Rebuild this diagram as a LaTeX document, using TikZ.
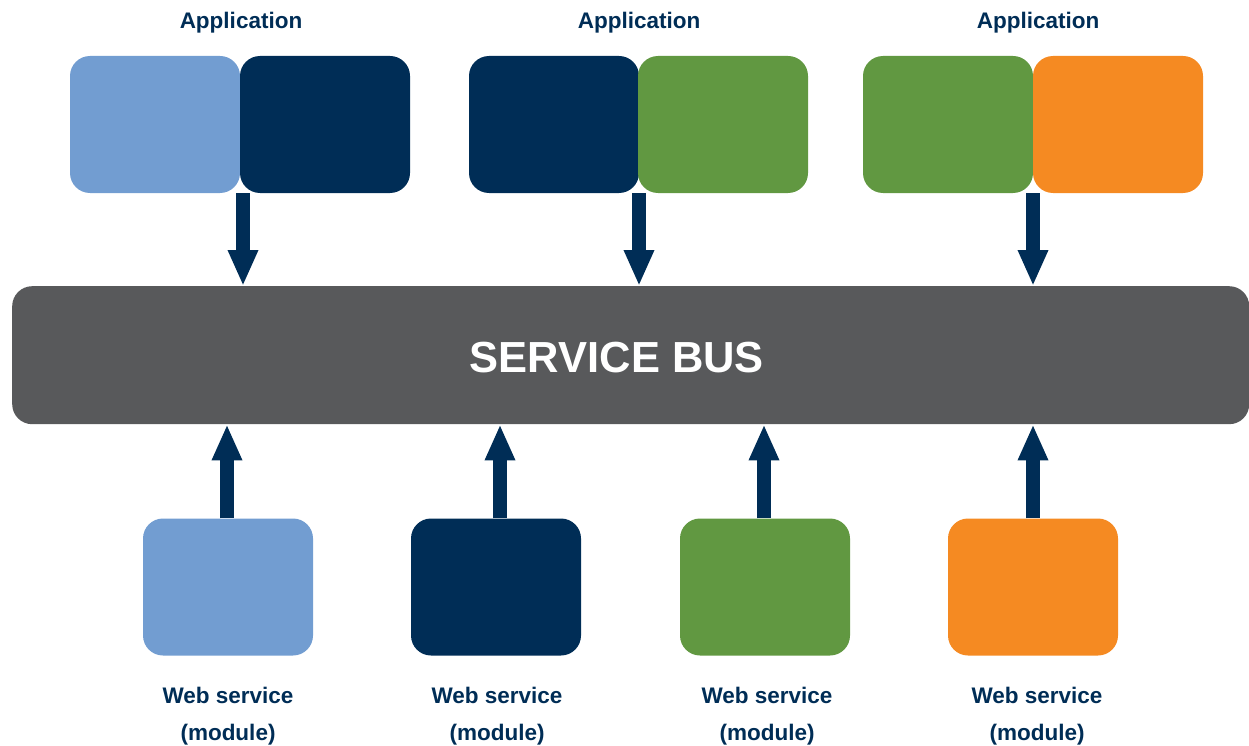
\documentclass[tikz,border=0pt]{standalone}
\usepackage{fontspec}
\setmainfont{Liberation Sans}
\usetikzlibrary{arrows.meta}
\definecolor{lblue}{HTML}{729DD1}
\definecolor{navy}{HTML}{002D56}
\definecolor{green}{HTML}{619841}
\definecolor{orange}{HTML}{F58A22}
\definecolor{busgray}{HTML}{58595B}
\tikzset{
  box/.style={rectangle, rounded corners=20pt, minimum width=170pt, minimum height=137pt, inner sep=0pt, draw=none},
  lbl/.style={text=navy, font=\fontsize{22.5}{37}\selectfont\bfseries, align=center, inner sep=0pt},
  bigarrow/.style={navy, line width=14pt, -{Triangle[width=28pt,length=36pt]}},
}
\begin{document}
\begin{tikzpicture}[x=1pt,y=-1pt]
\useasboundingbox (0,0) rectangle (1249,746);
% bus
\node[rectangle, rounded corners=20pt, fill=busgray, minimum width=1237pt, minimum height=138pt, inner sep=0pt, anchor=north west] (bus) at (12,286) {};
\node[text=white, font=\fontsize{43.5}{48}\selectfont\bfseries] (bustext) at (617,358) {SERVICE BUS};
% applications
\node[box, fill=lblue] (a1l) at (155,124.5) {};
\node[box, fill=navy] (a1r) at (325,124.5) {};
\node[box, fill=navy] (a2l) at (554,124.5) {};
\node[box, fill=green] (a2r) at (723,124.5) {};
\node[box, fill=green] (a3l) at (948,124.5) {};
\node[box, fill=orange] (a3r) at (1118,124.5) {};
\node[lbl] (t1) at (241,23) {Application};
\node[lbl] (t2) at (639,23) {Application};
\node[lbl] (t3) at (1038,23) {Application};
% web services
\node[box, fill=lblue] (w1) at (228,587) {};
\node[box, fill=navy] (w2) at (496,587) {};
\node[box, fill=green] (w3) at (765,587) {};
\node[box, fill=orange] (w4) at (1033,587) {};
\node[lbl] (l1) at (228,716.5) {Web service\\(module)};
\node[lbl] (l2) at (497,716.5) {Web service\\(module)};
\node[lbl] (l3) at (767,716.5) {Web service\\(module)};
\node[lbl] (l4) at (1037,716.5) {Web service\\(module)};
% arrow anchor coordinates
\coordinate (d1) at (243,193);
\coordinate (d2) at (639,193);
\coordinate (d3) at (1033,193);
\draw[bigarrow] (d1) -- (d1 |- bus.north);
\draw[bigarrow] (d2) -- (d2 |- bus.north);
\draw[bigarrow] (d3) -- (d3 |- bus.north);
\draw[bigarrow] ([xshift=-1pt]w1.north) -- ([xshift=-1pt]w1.north |- bus.south);
\draw[bigarrow] ([xshift=4pt]w2.north) -- ([xshift=4pt]w2.north |- bus.south);
\draw[bigarrow] ([xshift=-1pt]w3.north) -- ([xshift=-1pt]w3.north |- bus.south);
\draw[bigarrow] (w4.north) -- (w4.north |- bus.south);
\end{tikzpicture}
\end{document}
